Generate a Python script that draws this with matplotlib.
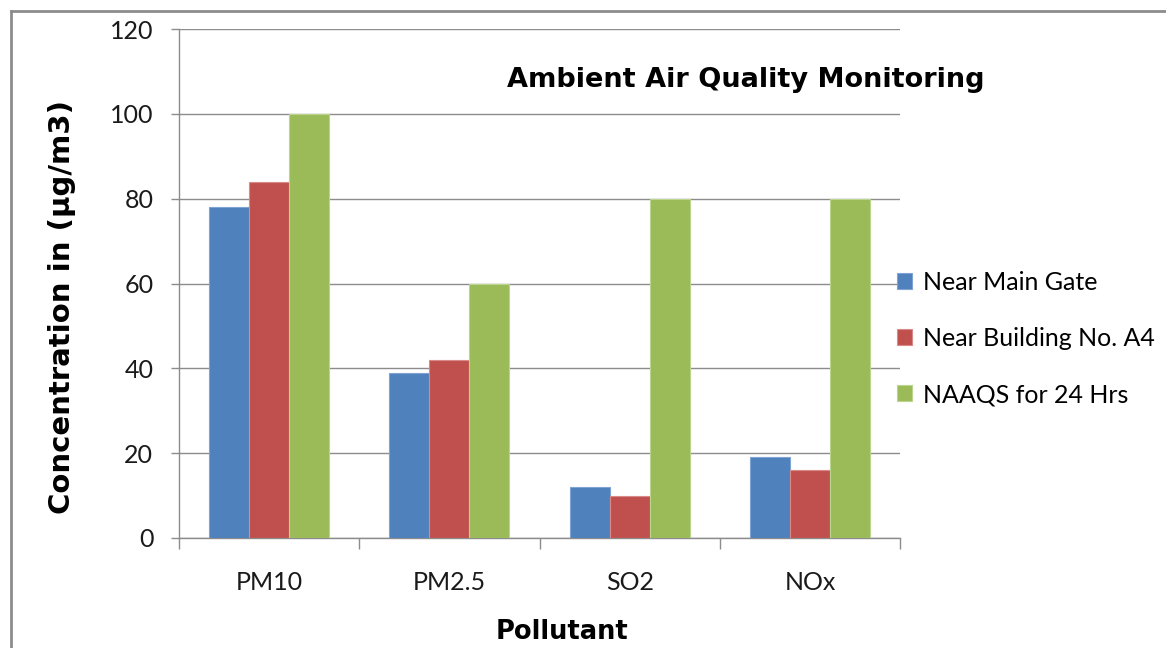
import numpy as np
import matplotlib.pyplot as plt
from matplotlib.lines import Line2D

# 数据
pollutants = ['PM10', 'PM2.5', 'SO2', 'NOx']
series_names = ['Near Main Gate', 'Near Building No. A4', 'NAAQS for 24 Hrs']
near_main_gate = [78, 39, 12, 19]
near_building_a4 = [84, 42, 10, 16]
naaqs_24hrs = [100, 60, 80, 80]
y_ticks = [0, 20, 40, 60, 80, 100, 120]

colors = ['#4F81BD', '#C0504D', '#9BBB59']
edges = ['#7FA3D3', '#D98A88', '#BCD58E']
grid_color = '#8C8C8C'

plt.rcParams['font.family'] = ['Lato', 'DejaVu Sans']

fig = plt.figure(figsize=(11.66, 6.48), dpi=100)
ax = fig.add_axes([0.1535, 0.1698, 0.772 - 0.1535, 0.9552 - 0.1698])

x = np.arange(len(pollutants))
width = 0.222
for i, vals in enumerate([near_main_gate, near_building_a4, naaqs_24hrs]):
    ax.bar(x + (i - 1) * width, vals, width, color=colors[i], edgecolor=edges[i],
           linewidth=0.8, label=series_names[i], zorder=3)

# 坐标轴
ax.set_xlim(-0.5, len(pollutants) - 0.5)
ax.set_ylim(0, 120)
ax.set_yticks(y_ticks)
ax.tick_params(axis='y', length=5.5, width=1, color=grid_color, labelsize=18,
               pad=13, labelcolor='#1a1a1a')
ax.set_xticks(x)
ax.set_xticklabels(pollutants, fontsize=18, color='#1a1a1a')
ax.tick_params(axis='x', length=0, pad=24)
ax.set_xticks(np.arange(len(pollutants) + 1) - 0.5, minor=True)
ax.tick_params(axis='x', which='minor', length=8, width=1, color=grid_color)
ax.grid(axis='y', color=grid_color, linewidth=1, zorder=0)
ax.set_axisbelow(True)
for side in ['top', 'right']:
    ax.spines[side].set_visible(False)
for side in ['left', 'bottom']:
    ax.spines[side].set_color(grid_color)
    ax.spines[side].set_linewidth(1)

ax.set_ylabel('Concentration in (µg/m3)', fontsize=21, fontweight='bold',
              family='DejaVu Sans', va='center')
ax.yaxis.set_label_coords(-0.162, 0.454)
ax.set_xlabel('Pollutant', fontsize=18.5, fontweight='bold', family='DejaVu Sans',
              va='center')
ax.xaxis.set_label_coords(0.531, -0.185)

# 标题
fig.text(0.64, 0.877, 'Ambient Air Quality Monitoring', fontsize=19.5,
         fontweight='bold', family='DejaVu Sans', ha='center', va='center')

# 图例
ax.legend(loc='center left', bbox_to_anchor=(0.769, 0.478),
          bbox_transform=fig.transFigure, frameon=False, fontsize=18,
          handlelength=0.6, handleheight=0.6, handletextpad=0.45,
          labelspacing=1.33, borderpad=0, borderaxespad=0)

# 外边框
fig.add_artist(Line2D([11 / 1166, 11 / 1166], [0, 1 - 11 / 648], color='#8C8C8C',
                      linewidth=2, transform=fig.transFigure))
fig.add_artist(Line2D([11 / 1166, 1], [1 - 11 / 648, 1 - 11 / 648], color='#8C8C8C',
                      linewidth=2, transform=fig.transFigure))

fig.savefig('out.png', dpi=100)
